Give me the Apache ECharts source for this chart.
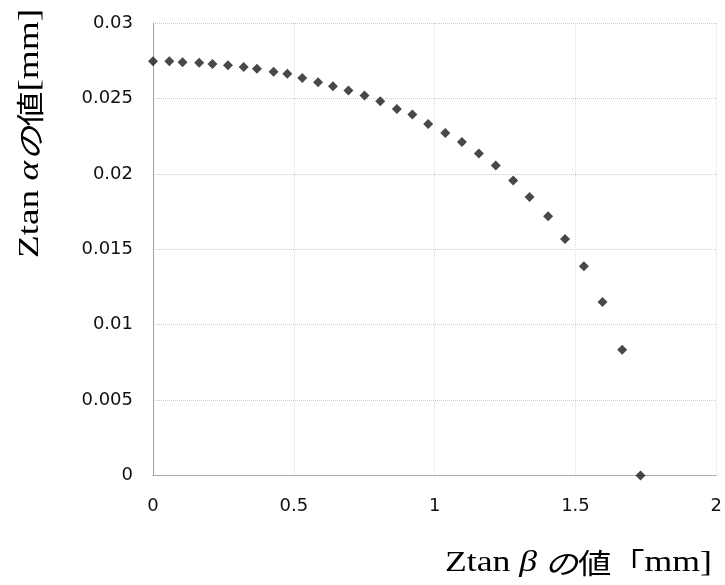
<!DOCTYPE html>
<html><head><meta charset="utf-8">
<script src="https://cdn.jsdelivr.net/npm/echarts@6/dist/echarts.min.js"></script>
<style>html,body{margin:0;padding:0;background:#fff}#c{width:725px;height:585px}</style>
</head><body><div id="c"></div>
<script>
// Ztan β values [mm]
const xValues = [0, 0.058, 0.105, 0.164, 0.211, 0.266, 0.322, 0.369, 0.428, 0.477,
  0.530, 0.586, 0.639, 0.694, 0.751, 0.807, 0.866, 0.921, 0.977, 1.038,
  1.097, 1.157, 1.217, 1.279, 1.337, 1.403, 1.463, 1.530, 1.596, 1.666, 1.731];
// Ztan α values [mm]
const yValues = [0.02746, 0.02746, 0.02740, 0.02736, 0.02729, 0.02720, 0.02709, 0.02696, 0.02676, 0.02663,
  0.02636, 0.02607, 0.02580, 0.02552, 0.02519, 0.02481, 0.02430, 0.02393, 0.02330, 0.02271,
  0.02211, 0.02134, 0.02056, 0.01955, 0.01846, 0.01718, 0.01568, 0.01387, 0.01150, 0.00833, 0.0];
const xTickLabels = ['0', '0.5', '1', '1.5', '2'];
const yTickLabels = ['0', '0.005', '0.01', '0.015', '0.02', '0.025', '0.03'];
const xTitle = ['Ztan ', 'β', ' の', '値', '「', 'mm]'];
const yTitle = ['Ztan ', 'α', 'の', '値', '[mm]'];

const chart = echarts.init(document.getElementById('c'), null, {renderer: 'canvas'});
const serif = '"Liberation Serif", "DejaVu Serif", serif';
const cjk = '"Noto Sans CJK JP", sans-serif';
function makeRich(size) {
  return {
    s: {fontFamily: serif, fontSize: size, color: '#151515', fontWeight: 'normal'},
    g: {fontFamily: serif, fontSize: size, fontStyle: 'italic', color: '#151515', fontWeight: 'normal'},
    j: {fontFamily: cjk, fontSize: size - 2, color: '#151515', fontStyle: 'italic', fontWeight: 'normal'},
    k: {fontFamily: cjk, fontSize: size - 2, color: '#151515', fontWeight: 'normal'}
  };
}
const labelFont = '"DejaVu Sans", Verdana, sans-serif';
chart.setOption({
  animation: false,
  backgroundColor: '#fff',
  grid: {left: 153, right: 4, top: 23, bottom: 109.5},
  xAxis: {
    type: 'value', min: 0, max: 2, interval: 0.5,
    axisLine: {show: true, lineStyle: {color: '#999', type: 'dotted'}},
    axisTick: {show: false},
    splitLine: {show: true, lineStyle: {color: '#dedede', type: 'dotted', width: 1}},
    axisLabel: {
      color: '#111', fontSize: 18, fontFamily: labelFont, margin: 22,
      formatter: v => xTickLabels[Math.round(v / 0.5)]
    }
  },
  yAxis: {
    type: 'value', min: 0, max: 0.03, interval: 0.005,
    axisLine: {show: true, lineStyle: {color: '#999', type: 'dotted'}},
    axisTick: {show: false},
    splitLine: {show: true, lineStyle: {color: '#cacaca', type: 'dotted', width: 1}},
    axisLabel: {
      color: '#111', fontSize: 18, fontFamily: labelFont, margin: 20,
      formatter: v => yTickLabels[Math.round(v / 0.005)]
    }
  },
  series: [{
    type: 'scatter',
    symbol: 'diamond',
    symbolSize: 10,
    itemStyle: {color: '#1a1a1a'},
    data: xValues.map((x, i) => [x, yValues[i]])
  }],
  graphic: [
    {
      type: 'text', x: 445, y: 563, scaleX: 1.19,
      style: {
        text: `{s|${xTitle[0]}}{g|${xTitle[1]}}{j|${xTitle[2]}}{k|${xTitle[3]}}{k|${xTitle[4]}}{s|${xTitle[5]}}`,
        rich: makeRich(30), align: 'left', verticalAlign: 'middle', fontWeight: 'normal'
      }
    },
    {
      type: 'text', x: 30, y: 133.5, rotation: Math.PI / 2, scaleX: 1.24,
      style: {
        text: `{s|${yTitle[0]}}{g|${yTitle[1]}}{j|${yTitle[2]}}{k|${yTitle[3]}}{s|${yTitle[4]}}`,
        rich: makeRich(30), align: 'center', verticalAlign: 'middle', fontWeight: 'normal'
      }
    }
  ]
});
</script>
</body></html>
